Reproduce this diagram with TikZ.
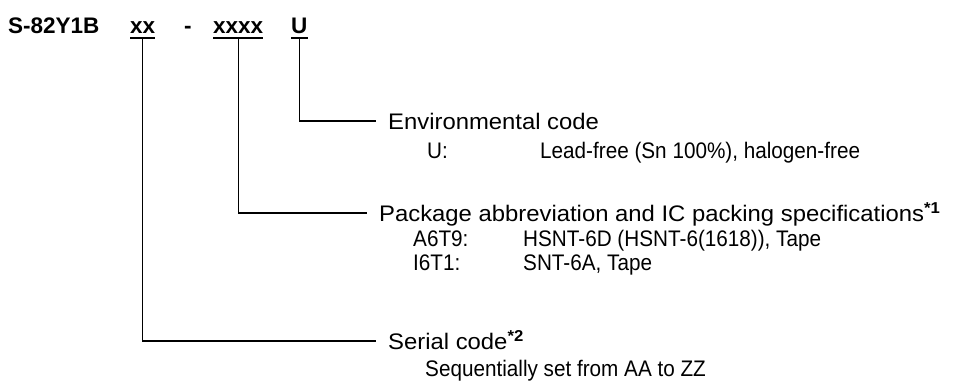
\documentclass[tikz,border=0pt]{standalone}
\usepackage{fontspec}
\setmainfont{Liberation Sans}
\newfontfamily\headfont[FakeStretch=1.06]{Liberation Sans}
\newfontfamily\itemfont[FakeStretch=0.92]{Liberation Sans}
\begin{document}
\begin{tikzpicture}[x=1pt,y=1pt,
    partcode/.style={anchor=base west,inner sep=0pt,text depth=5pt,font=\fontsize{22.5}{26}\selectfont\bfseries},
    desc/.style={anchor=base west,inner ysep=0pt,inner xsep=12pt,text height=16pt,text depth=0pt,font=\headfont\fontsize{22.5}{26}\selectfont},
    entry/.style={anchor=base west,inner sep=0pt,font=\itemfont\fontsize{22.5}{26}\selectfont},
    leader/.style={line width=1.4pt},
    uline/.style={line width=2pt}]
    \useasboundingbox (0,0) rectangle (953,-388);

    \node[partcode] (base) at (8,-33) {S-82Y1B};
    \node[partcode] (ser) at (130,-33) {xx};
    \node[partcode] (dash) at (184,-33) {-};
    \node[partcode] (pkg) at (213,-33) {xxxx};
    \node[partcode] (env) at (291,-33) {U};
    \foreach \n in {ser,pkg,env}
        \draw[uline] (\n.south west) -- (\n.south east);

    \node[desc] (envtxt) at (376,-129) {Environmental code};
    \node[entry] (envkey) at (427,-158) {U:};
    \node[entry] (envval) at (540,-158) {Lead-free (Sn 100\%), halogen-free};

    \node[desc] (pkgtxt) at (367,-221) {Package abbreviation and IC packing specifications\textsuperscript{\bfseries *1}};
    \node[entry] (pkgkeya) at (413,-246) {A6T9:};
    \node[entry] (pkgvala) at (523,-246) {HSNT-6D (HSNT-6(1618)), Tape};
    \node[entry] (pkgkeyb) at (413,-270) {I6T1:};
    \node[entry] (pkgvalb) at (523,-270) {SNT-6A, Tape};

    \node[desc] (sertxt) at (376,-349) {Serial code\textsuperscript{\bfseries *2}};
    \node[entry] (serval) at (425,-376) {Sequentially set from AA to ZZ};

    \draw[leader] (env.south) |- (envtxt.west);
    \draw[leader] (pkg.south) |- (pkgtxt.west);
    \draw[leader] (ser.south) |- (sertxt.west);
\end{tikzpicture}
\end{document}
